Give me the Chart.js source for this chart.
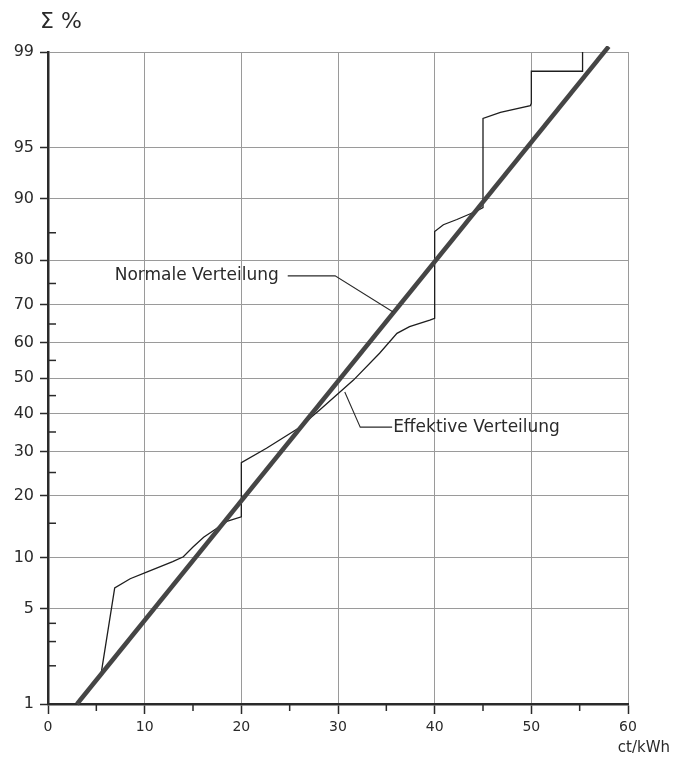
<!DOCTYPE html>
<html lang="de">
<head>
<meta charset="UTF-8">
<title>Normale und effektive Verteilung</title>
<script src="https://cdn.jsdelivr.net/npm/chart.js"></script>
<style>
  body { margin: 0; background: #fff; }
  #wrap { width: 684px; height: 758px; }
</style>
</head>
<body>
<div id="wrap"><canvas id="chart"></canvas></div>
<script>
// tick labels (percent on probability paper) and minor ticks
const yTickPct = [1, 5, 10, 20, 30, 40, 50, 60, 70, 80, 90, 95, 99];
const yMinorPct = [2, 3, 4, 15, 25, 35, 45, 55, 65, 75, 85];
const xMinor = [5, 15, 25, 35, 45, 55];

// Normale Verteilung (straight line on probability paper)
const normX = [3, 58.0];
const normPct = [1, 99.1];

// Effektive Verteilung
const effX = [5.5, 6.9, 8.5, 10.2, 12.9, 14.0, 15.0, 16.1, 17.4, 18.5, 20.0, 20.0, 22.6, 25.9, 28.1, 31.6,
              34.3, 36.1, 37.4, 39.5, 40.0, 40.0, 40.9, 42.3, 44.3, 45.0, 45.0, 46.8, 49.9, 50.0, 50.0, 55.3, 55.3];
const effPct = [1.75, 6.7, 7.6, 8.3, 9.5, 10.1, 11.4, 12.8, 14.1, 15.3, 16.1, 27.3, 30.8, 36, 41, 49.4,
                57, 62.5, 64.3, 66, 66.5, 85.2, 86.3, 87.1, 88.3, 88.8, 96.8, 97.1, 97.4, 97.5, 98.57, 98.57, 99];

// leader lines of the two labels
const normLeadX = [24.8, 29.7, 35.7];
const normLeadPct = [76.7, 76.7, 68.1];
const effLeadX = [30.7, 32.3, 35.6];
const effLeadPct = [46, 36.3, 36.3];

// inverse normal cdf (Acklam) -> y axis of probability paper
function probit(pct) {
  const p = pct / 100;
  const a = [-39.69683028665376, 220.9460984245205, -275.9285104469687, 138.3577518672690, -30.66479806614716, 2.506628277386502];
  const b = [-54.47609879822406, 161.5858368580409, -155.6989798598866, 66.80131188771972, -13.28068155288572];
  const c = [-0.007784894002430293, -0.3223964580411365, -2.400758277161838, -2.549732539343734, 4.374664141464968, 2.938163982698783];
  const d = [0.007784695709041462, 0.3224671290700398, 2.445134137142996, 3.754408661907416];
  const plow = 0.02425;
  let q, r;
  if (p < plow) {
    q = Math.sqrt(-2 * Math.log(p));
    return (((((c[0]*q+c[1])*q+c[2])*q+c[3])*q+c[4])*q+c[5]) / ((((d[0]*q+d[1])*q+d[2])*q+d[3])*q+1);
  }
  if (p > 1 - plow) {
    q = Math.sqrt(-2 * Math.log(1 - p));
    return -(((((c[0]*q+c[1])*q+c[2])*q+c[3])*q+c[4])*q+c[5]) / ((((d[0]*q+d[1])*q+d[2])*q+d[3])*q+1);
  }
  q = p - 0.5; r = q * q;
  return (((((a[0]*r+a[1])*r+a[2])*r+a[3])*r+a[4])*r+a[5])*q / (((((b[0]*r+b[1])*r+b[2])*r+b[3])*r+b[4])*r+1);
}

const toPoints = (xs, ps) => xs.map((x, i) => ({ x: x, y: probit(ps[i]) }));

const ink = '#2a2a2a';
const gridCol = '#9a9a9a';
const font = '"DejaVu Sans", sans-serif';

const extras = {
  id: 'extras',
  afterDatasetsDraw(chart) {
    const c = chart.ctx, xs = chart.scales.x, ys = chart.scales.y, a = chart.chartArea;
    c.save();
    c.strokeStyle = ink;
    c.lineWidth = 1.5;
    // minor ticks
    yMinorPct.forEach(p => {
      const y = ys.getPixelForValue(probit(p));
      c.beginPath(); c.moveTo(a.left, y); c.lineTo(a.left + 8, y); c.stroke();
    });
    xMinor.forEach(v => {
      const x = xs.getPixelForValue(v);
      c.beginPath(); c.moveTo(x, a.bottom); c.lineTo(x, a.bottom + 7); c.stroke();
    });
    // leader lines
    c.lineWidth = 1.1;
    [[normLeadX, normLeadPct], [effLeadX, effLeadPct]].forEach(([lx, lp]) => {
      c.beginPath();
      lx.forEach((v, i) => {
        const px = xs.getPixelForValue(v), py = ys.getPixelForValue(probit(lp[i]));
        if (i === 0) c.moveTo(px, py); else c.lineTo(px, py);
      });
      c.stroke();
    });
    // labels
    c.fillStyle = ink;
    c.font = '17px ' + font;
    c.textBaseline = 'middle';
    c.textAlign = 'right';
    c.fillText('Normale Verteilung', xs.getPixelForValue(normLeadX[0]) - 9, ys.getPixelForValue(probit(normLeadPct[0])));
    c.textAlign = 'left';
    c.fillText('Effektive Verteilung', xs.getPixelForValue(effLeadX[2]) + 1, ys.getPixelForValue(probit(effLeadPct[2])));
    // axis titles
    c.font = '22px ' + font;
    c.textAlign = 'left';
    c.fillText('\u03A3 %', a.left - 8, a.top - 30);
    c.font = '15px ' + font;
    c.textAlign = 'right';
    c.fillText('ct/kWh', a.right + 42, a.bottom + 44);
    c.restore();
  }
};

new Chart(document.getElementById('chart'), {
  type: 'scatter',
  data: {
    datasets: [
      {
        label: 'Normale Verteilung',
        data: toPoints(normX, normPct),
        showLine: true,
        borderColor: '#454545',
        borderWidth: 4.5,
        pointRadius: 0,
        clip: 6
      },
      {
        label: 'Effektive Verteilung',
        data: toPoints(effX, effPct),
        showLine: true,
        borderColor: '#1e1e1e',
        borderWidth: 1.3,
        pointRadius: 0,
        clip: 2
      }
    ]
  },
  options: {
    responsive: true,
    maintainAspectRatio: false,
    animation: false,
    layout: { padding: { top: 52, right: 56, left: 0, bottom: 0 } },
    plugins: { legend: { display: false }, tooltip: { enabled: false } },
    scales: {
      x: {
        type: 'linear',
        min: 0,
        max: 60,
        afterFit: s => { s.height = 54; },
        ticks: { stepSize: 10, color: ink, font: { family: font, size: 14 }, padding: 5, maxRotation: 0 },
        grid: { color: gridCol, lineWidth: 1, tickColor: ink, tickLength: 10, tickWidth: 1.5 },
        border: { color: ink, width: 2.5 }
      },
      y: {
        type: 'linear',
        min: probit(1),
        max: probit(99),
        afterFit: s => { s.width = 48; },
        afterBuildTicks: axis => { axis.ticks = yTickPct.map(p => ({ value: probit(p) })); },
        ticks: {
          autoSkip: false,
          color: ink,
          font: { family: font, size: 16 },
          padding: 6,
          callback: (v, i) => yTickPct[i]
        },
        grid: { color: gridCol, lineWidth: 1, tickColor: ink, tickLength: 8, tickWidth: 1.5 },
        border: { color: ink, width: 2.5 }
      }
    }
  },
  plugins: [extras]
});
</script>
</body>
</html>
